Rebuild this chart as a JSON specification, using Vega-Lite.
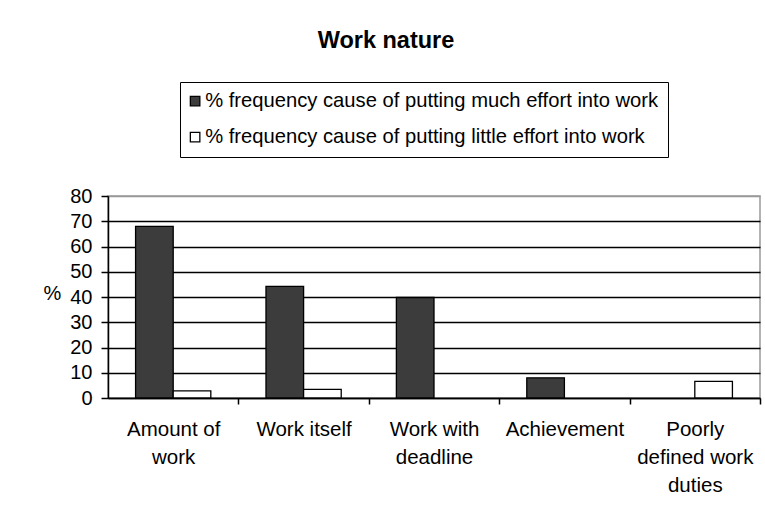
{
  "$schema": "https://vega.github.io/schema/vega-lite/v6.json",
  "width": 652,
  "height": 202,
  "autosize": {"type": "none"},
  "padding": {"left": 108, "top": 196, "right": 5, "bottom": 123},
  "background": "white",
  "title": {
    "text": "Work nature",
    "font": "Liberation Sans",
    "fontSize": 23.5,
    "fontWeight": "bold",
    "color": "black",
    "anchor": "middle",
    "dx": -48,
    "offset": 10,
    "baseline": "alphabetic"
  },
  "data": {
    "values": [
      {"category": "Amount of work", "series": "% frequency cause of putting much effort into work", "value": 68},
      {"category": "Amount of work", "series": "% frequency cause of putting little effort into work", "value": 2.8},
      {"category": "Work itself", "series": "% frequency cause of putting much effort into work", "value": 44.2},
      {"category": "Work itself", "series": "% frequency cause of putting little effort into work", "value": 3.4},
      {"category": "Work with deadline", "series": "% frequency cause of putting much effort into work", "value": 39.8},
      {"category": "Achievement", "series": "% frequency cause of putting much effort into work", "value": 8},
      {"category": "Poorly defined work duties", "series": "% frequency cause of putting little effort into work", "value": 6.6}
    ]
  },
  "mark": {"type": "bar", "stroke": "black", "strokeWidth": 1.3},
  "encoding": {
    "x": {
      "field": "category",
      "type": "nominal",
      "sort": ["Amount of work", "Work itself", "Work with deadline", "Achievement", "Poorly defined work duties"],
      "scale": {"paddingInner": 0.423, "paddingOuter": 0.2115},
      "axis": {
        "title": null,
        "labelAngle": 0,
        "bandPosition": 1,
        "tickOffset": 27.6,
        "labelOffset": -27.6,
        "tickSize": 6,
        "tickColor": "black",
        "tickWidth": 1.5,
        "domainColor": "black",
        "domainWidth": 1.5,
        "labelFont": "Liberation Sans",
        "labelFontSize": 20.5,
        "labelColor": "black",
        "labelLineHeight": 28,
        "labelPadding": 15,
        "labelOverlap": false,
        "labelLimit": 300,
        "labelExpr": "datum.value == 'Amount of work' ? ['Amount of', 'work'] : datum.value == 'Work with deadline' ? ['Work with', 'deadline'] : datum.value == 'Poorly defined work duties' ? ['Poorly', 'defined work', 'duties'] : datum.value"
      }
    },
    "xOffset": {
      "field": "series",
      "type": "nominal",
      "sort": ["% frequency cause of putting much effort into work", "% frequency cause of putting little effort into work"],
      "scale": {"paddingInner": 0, "paddingOuter": 0}
    },
    "y": {
      "field": "value",
      "type": "quantitative",
      "scale": {"domain": [0, 80]},
      "axis": {
        "values": [0, 10, 20, 30, 40, 50, 60, 70, 80],
        "title": "%",
        "titleAngle": 0,
        "titleX": -65,
        "titleY": 97,
        "titleAlign": "left",
        "titleBaseline": "middle",
        "titleFont": "Liberation Sans",
        "titleFontSize": 20,
        "titleFontWeight": "normal",
        "titleColor": "black",
        "grid": true,
        "gridColor": {"condition": {"test": "datum.value === 80", "value": "#999999"}, "value": "black"},
        "gridOpacity": 1,
        "gridWidth": 1.5,
        "domainColor": "black",
        "domainWidth": 1.5,
        "tickColor": "black",
        "tickWidth": 1.5,
        "tickSize": 7,
        "labelPadding": 9,
        "labelFont": "Liberation Sans",
        "labelFontSize": 20,
        "labelColor": "black"
      }
    },
    "fill": {
      "field": "series",
      "type": "nominal",
      "scale": {
        "domain": ["% frequency cause of putting much effort into work", "% frequency cause of putting little effort into work"],
        "range": ["#3c3c3c", "#ffffff"]
      },
      "legend": {
        "orient": "none",
        "legendX": 72,
        "legendY": -114,
        "direction": "vertical",
        "title": null,
        "symbolType": "square",
        "symbolSize": 90,
        "symbolStrokeColor": "black",
        "symbolStrokeWidth": 1.3,
        "symbolOffset": -4,
        "labelFont": "Liberation Sans",
        "labelFontSize": 20.2,
        "labelColor": "black",
        "labelLimit": 600,
        "labelOffset": 0,
        "strokeColor": "black",
        "padding": 9,
        "rowPadding": 15
      }
    }
  },
  "config": {
    "view": {"stroke": "#999999", "strokeWidth": 1.5}
  }
}
